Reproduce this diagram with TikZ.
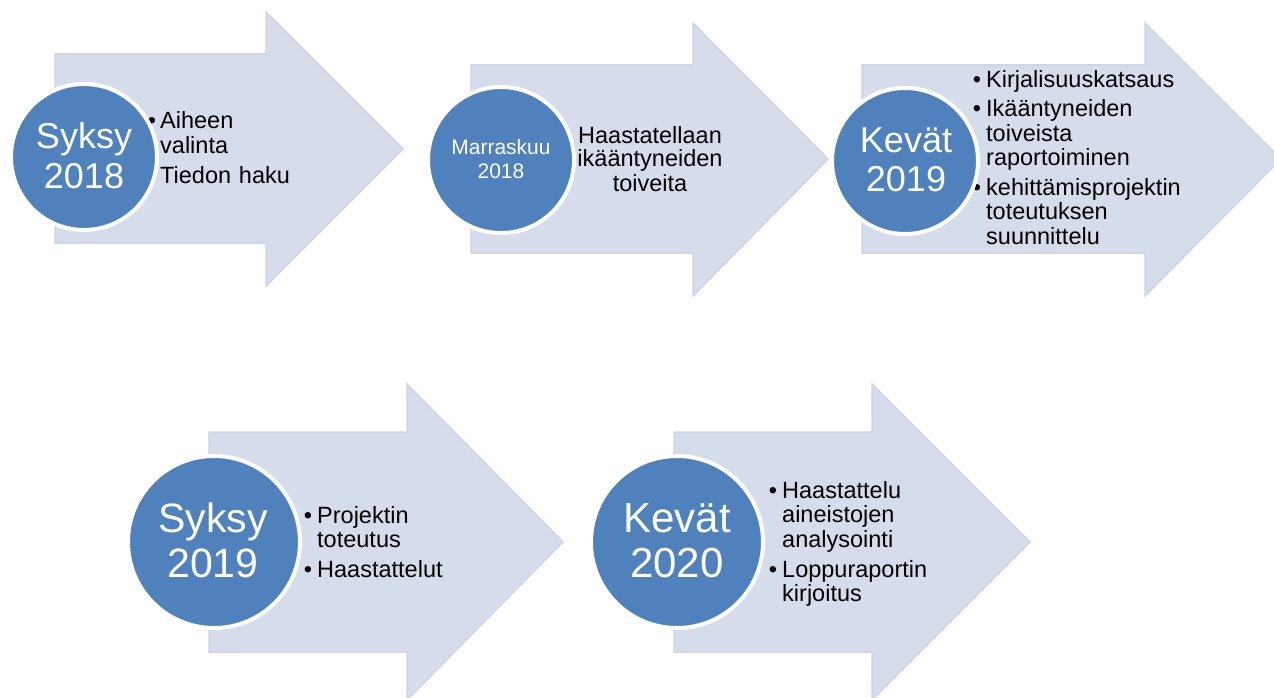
\documentclass[tikz,border=0pt]{standalone}
\usepackage{fontspec}
\setmainfont{Liberation Sans}
\definecolor{arrowfill}{RGB}{213,220,234}
\definecolor{arrowedge}{RGB}{205,213,230}
\definecolor{circblue}{RGB}{79,129,189}
\tikzset{
  arrowshape/.style={fill=arrowfill, draw=arrowedge, line width=1.5pt, line join=miter},
  circ/.style={circle, fill=circblue, draw=white, line width=4pt, inner sep=0pt},
  ctext/.style={text=white, align=center, text width=170pt, inner sep=0pt, anchor=base},
  btext/.style={text=black, align=left, text width=260pt, inner sep=0pt, anchor=base west,
    font=\fontsize{23.5}{24.5}\selectfont},
  ctrtext/.style={text=black, align=center, text width=200pt, inner sep=0pt, anchor=base,
    font=\fontsize{23.5}{24}\selectfont},
  bul/.style={inner sep=0pt, anchor=base, font=\fontsize{23.5}{24.5}\selectfont},
}
\begin{document}
\begin{tikzpicture}[x=1pt,y=-1pt]
\path[use as bounding box] (0,0) rectangle (1274,698);
\clip (0,0) rectangle (1274,698);
% arrows
\path[arrowshape] (55,54) -- (266,54) -- (266,12) -- (403,149) -- (266,286) -- (266,243) -- (55,243) -- cycle;
\path[arrowshape] (471,65) -- (693,65) -- (693,23) -- (828,159) -- (693,296) -- (693,253) -- (471,253) -- cycle;
\path[arrowshape] (862,65) -- (1145,65) -- (1145,23) -- (1281,159) -- (1145,296) -- (1145,253) -- (862,253) -- cycle;
\path[arrowshape] (209,432) -- (407,432) -- (407,384) -- (563,542) -- (407,700) -- (407,652) -- (209,652) -- cycle;
\path[arrowshape] (674,432) -- (872,432) -- (872,384) -- (1030,542) -- (872,700) -- (872,652) -- (674,652) -- cycle;
% body texts
\node[btext] (t1a) at (160,129) {\fontsize{23.5}{26}\selectfont Aiheen\\valinta};
\node[bul] (b1a) at (152,129) {•};
\node[btext] (t1b) at (160,183) {Tiedon haku};
\node[bul] (b1b) at (152,183) {•};
\node[ctrtext] (t2) at (650,143) {Haastatellaan\\ikääntyneiden\\toiveita};
\node[btext] (t3a) at (986,88) {Kirjalisuuskatsaus};
\node[bul] (b3a) at (977,88) {•};
\node[btext] (t3b) at (986,117) {Ikääntyneiden\\toiveista\\raportoiminen};
\node[bul] (b3b) at (977,117) {•};
\node[btext] (t3c) at (986,195) {kehittämisprojektin\\toteutuksen\\suunnittelu};
\node[bul] (b3c) at (977,195) {•};
\node[btext] (t4a) at (317,523) {Projektin\\toteutus};
\node[bul] (b4a) at (308,523) {•};
\node[btext] (t4b) at (317,577) {Haastattelut};
\node[bul] (b4b) at (308,577) {•};
\node[btext] (t5a) at (782,498) {Haastattelu\\aineistojen\\analysointi};
\node[bul] (b5a) at (773,498) {•};
\node[btext] (t5b) at (782,577) {Loppuraportin\\kirjoitus};
\node[bul] (b5b) at (773,577) {•};
% circles
\node[circ, minimum size=146pt] (c1) at (84,157) {};
\node[circ, minimum size=146pt] (c2) at (501,160) {};
\node[circ, minimum size=146pt] (c3) at (905,161) {};
\node[circ, minimum size=172pt] (c4) at (214,542) {};
\node[circ, minimum size=172pt] (c5) at (677,542) {};
% circle texts
\node[ctext, font=\fontsize{36}{39.5}\selectfont] (c1t) at (84,149) {Syksy\\2018};
\node[ctext, font=\fontsize{21}{24}\selectfont] (c2t) at (501,154) {Marraskuu\\2018};
\node[ctext, font=\fontsize{36}{39}\selectfont] (c3t) at (906,153) {Kevät\\2019};
\node[ctext, font=\fontsize{41}{45}\selectfont] (c4t) at (213,532) {Syksy\\2019};
\node[ctext, font=\fontsize{42}{45}\selectfont] (c5t) at (677,532) {Kevät\\2020};
\end{tikzpicture}
\end{document}
